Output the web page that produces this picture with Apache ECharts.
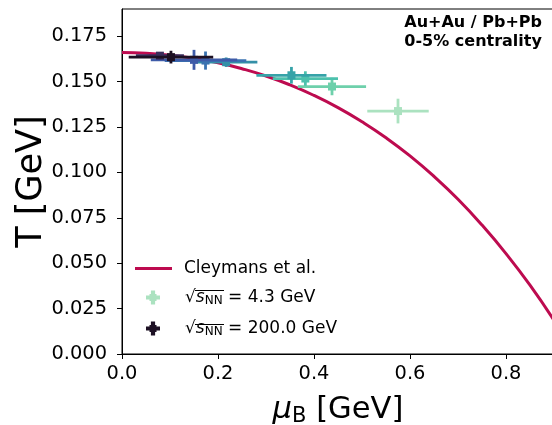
<!DOCTYPE html>
<html><head><meta charset="utf-8">
<script src="https://cdn.jsdelivr.net/npm/echarts@6/dist/echarts.min.js"></script>
<style>html,body{margin:0;padding:0;background:#fff}#c{width:552px;height:425px}</style>
</head><body><div id="c"></div>
<script>
// Cleymans et al. freeze-out curve
const curveMu = [0, 0.05, 0.1, 0.15, 0.2, 0.25, 0.3, 0.35, 0.4, 0.45, 0.5, 0.55, 0.6, 0.65, 0.7, 0.75, 0.8, 0.85, 0.9];
const curveT  = [0.166, 0.1656, 0.1646, 0.1628, 0.1604, 0.1571, 0.1531, 0.1482, 0.1424, 0.1357, 0.1279, 0.1191, 0.1091, 0.0978, 0.0852, 0.0710, 0.0553, 0.0379, 0.0186];
// Data points (light -> dark)
const energies = ['4.3', '7.7', '8.8', '11.5', '19.6', '27.0', '39.0', '62.4', '200.0'];
const muB  = [0.575, 0.4375, 0.382, 0.353, 0.217, 0.174, 0.150, 0.079, 0.102];
const temp = [0.1338, 0.1473, 0.1517, 0.1535, 0.1607, 0.1616, 0.1620, 0.1643, 0.1635];
const muErr = [0.064, 0.071, 0.068, 0.073, 0.065, 0.085, 0.09, 0.05, 0.088];
const tErr  = [0.0068, 0.0048, 0.0040, 0.0046, 0.0026, 0.0050, 0.0055, 0.0020, 0.0035];
const colors = ['#abe2c0', '#6ed0ab', '#4cc1ad', '#36a3a8', '#348fa7', '#3a72b0', '#3e5ba8', '#3a2d5c', '#1d1023'];
const yTicks = [0, 0.025, 0.05, 0.075, 0.1, 0.125, 0.15, 0.175];
const xTicks = [0, 0.2, 0.4, 0.6, 0.8];

const FONT = 'DejaVu Sans';
const chart = echarts.init(document.getElementById('c'), null, {renderer: 'canvas'});

function renderErr(params, api) {
  const x = api.value(0), y = api.value(1), dx = api.value(2), dy = api.value(3);
  const c = api.coord([x, y]);
  const l = api.coord([x - dx, y]), r = api.coord([x + dx, y]);
  const t = api.coord([x, y + dy]), b = api.coord([x, y - dy]);
  const color = api.visual('color');
  const s = 8;
  return {type: 'group', children: [
    {type: 'line', shape: {x1: l[0], y1: l[1], x2: r[0], y2: r[1]}, style: {stroke: color, lineWidth: 2.8}},
    {type: 'line', shape: {x1: t[0], y1: t[1], x2: b[0], y2: b[1]}, style: {stroke: color, lineWidth: 2.8}},
    {type: 'rect', shape: {x: c[0] - s / 2, y: c[1] - s / 2, width: s, height: s}, style: {fill: color}}
  ]};
}

const series = [{
  name: 'Cleymans et al.',
  type: 'line',
  data: curveMu.map((m, i) => [m, curveT[i]]),
  smooth: true,
  showSymbol: false,
  symbol: 'none',
  lineStyle: {color: '#bd0b4f', width: 3},
  itemStyle: {color: '#bd0b4f'},
  z: 2,
  silent: true
}];
energies.forEach((e, i) => {
  series.push({
    name: e,
    type: 'custom',
    renderItem: renderErr,
    itemStyle: {color: colors[i]},
    data: [[muB[i], temp[i], muErr[i], tErr[i]]],
    encode: {x: 0, y: 1},
    z: 3,
    clip: true
  });
});

const plusIcon = 'path://M3.5,0H6.5V2.5H7.5V3.5H10V6.5H7.5V7.5H6.5V10H3.5V7.5H2.5V6.5H0V3.5H2.5V2.5H3.5Z';
const LF = 17;
const legendRich = {
  g1: {width: 7},
  g2: {width: 20},
  s: {fontStyle: 'italic', fontSize: LF, fontFamily: FONT, color: '#000'},
  sub: {fontSize: 12, fontFamily: FONT, color: '#000', padding: [7, 0, 0, 0]},
  t: {fontSize: LF, fontFamily: FONT, color: '#000'}
};

chart.setOption({
  animation: false,
  backgroundColor: '#fff',
  grid: {left: 122, top: 9, width: 432, height: 345, show: true, borderColor: '#000', borderWidth: 1, containLabel: false, outerBoundsMode: 'none'},
  xAxis: {
    type: 'value', min: 0, max: 0.9,
    name: '{mu|μ}{sub|B}{t| [GeV]}',
    nameLocation: 'middle', nameGap: 40, nameMoveOverlap: false,
    nameTextStyle: {rich: {
      mu: {fontStyle: 'italic', fontSize: 30.6, fontFamily: FONT, color: '#000'},
      sub: {fontSize: 21, fontFamily: FONT, color: '#000', padding: [12, 0, 0, 0]},
      t: {fontSize: 30.6, fontFamily: FONT, color: '#000'}
    }},
    axisLine: {onZero: false, lineStyle: {color: '#000', width: 1}},
    axisTick: {show: true, inside: false, length: 5, lineStyle: {color: '#000'}, customValues: xTicks},
    axisLabel: {customValues: xTicks, formatter: v => v.toFixed(1), fontSize: 19.4, fontFamily: FONT, color: '#000', margin: 10},
    splitLine: {show: false}
  },
  yAxis: {
    type: 'value', min: 0, max: 0.19,
    name: 'T [GeV]',
    nameLocation: 'middle', nameGap: 73, nameMoveOverlap: false,
    nameTextStyle: {fontSize: 35, fontFamily: FONT, color: '#000'},
    axisLine: {onZero: false, lineStyle: {color: '#000', width: 1}},
    axisTick: {show: true, inside: false, length: 5, lineStyle: {color: '#000'}, customValues: yTicks},
    axisLabel: {customValues: yTicks, formatter: v => v.toFixed(3), fontSize: 19.4, fontFamily: FONT, color: '#000', margin: 15},
    splitLine: {show: false}
  },
  legend: [{
    data: [{name: 'Cleymans et al.', icon: 'rect'}],
    left: 135, top: 260, padding: 0,
    itemWidth: 37, itemHeight: 3,
    selectedMode: false,
    formatter: n => '{g1|}{t|' + n + '}',
    textStyle: {rich: legendRich, fontSize: LF, fontFamily: FONT, color: '#000'}
  }, {
    data: [{name: '4.3', icon: plusIcon}, {name: '200.0', icon: plusIcon}],
    orient: 'vertical',
    left: 146, top: 289, padding: 0,
    itemWidth: 14, itemHeight: 14, itemGap: 13,
    selectedMode: false,
    formatter: n => '{g2|}{t|√}{s|s}{sub|NN}{t| = ' + n + ' GeV}',
    textStyle: {rich: legendRich, fontSize: LF, fontFamily: FONT, color: '#000'}
  }],
  graphic: [
    {type: 'text', right: 10, top: 13, style: {text: 'Au+Au / Pb+Pb\n0-5% centrality', font: 'bold 16px "DejaVu Sans"', fill: '#000', align: 'right', lineHeight: 19.5}},
    {type: 'line', shape: {x1: 195, y1: 290.5, x2: 224, y2: 290.5}, style: {stroke: '#000', lineWidth: 1}},
    {type: 'line', shape: {x1: 195, y1: 324.5, x2: 224, y2: 324.5}, style: {stroke: '#000', lineWidth: 1}}
  ],
  series: series
});
</script></body></html>
